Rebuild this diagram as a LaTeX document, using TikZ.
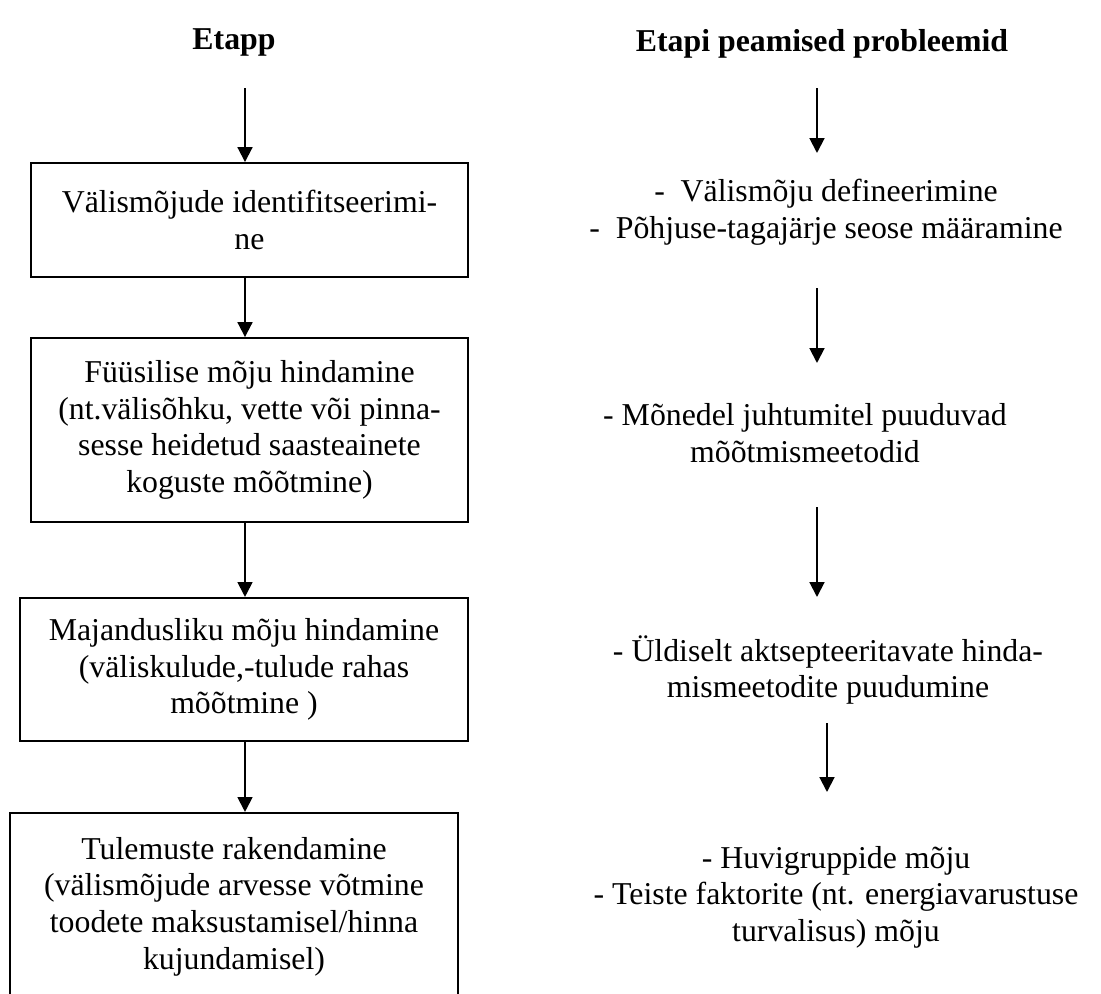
\documentclass[tikz,border=0pt]{standalone}
\usepackage{fontspec}
\setmainfont{Liberation Serif}
\usetikzlibrary{arrows.meta}

\begin{document}
\begin{tikzpicture}[x=0.37736pt,y=-0.37736pt,
  font=\fontsize{12pt}{13.8pt}\selectfont,
  stage/.style={draw,line width=0.75pt,align=center,inner sep=0pt},
  issue/.style={align=center,inner sep=0pt},
  flow/.style={line width=0.75pt,-{Triangle[length=5.6pt,width=5.6pt]}}]
\useasboundingbox (0,0) rectangle (1101,994);
\clip (0,0) rectangle (1101,994);

\node[font=\fontsize{12pt}{13.8pt}\selectfont\bfseries] (etapp) at (234,42) {Etapp};
\node[font=\fontsize{12pt}{13.8pt}\selectfont\bfseries] (probl) at (822,44) {Etapi peamised probleemid};

\node[stage,minimum width=164.9pt,minimum height=43pt] (s1) at (249.5,220)
  {Välismõjude identifitseerimi-\\ne};
\node[stage,minimum width=164.9pt,minimum height=69.4pt] (s2) at (249.5,430)
  {Füüsilise mõju hindamine\\(nt.välisõhku, vette või pinna-\\sesse heidetud saasteainete\\koguste mõõtmine)};
\node[stage,minimum width=169.1pt,minimum height=54pt] (s3) at (244,669.5)
  {Majandusliku mõju hindamine\\(väliskulude,-tulude rahas\\mõõtmine )};
\node[stage,minimum width=169.1pt,minimum height=70.6pt] (s4) at (234,906.5)
  {Tulemuste rakendamine\\(välismõjude arvesse võtmine\\toodete maksustamisel/hinna\\kujundamisel)};

\coordinate (top) at (245,88);
\draw[flow] (top) -- (top |- s1.north);
\draw[flow] (top |- s1.south) -- (top |- s2.north);
\draw[flow] (top |- s2.south) -- (top |- s3.north);
\draw[flow] (top |- s3.south) -- (top |- s4.north);

\node[issue] (p1) at (826,212)
  {-\ \ Välismõju defineerimine\\-\ \ Põhjuse-tagajärje seose määramine};
\node[issue] (p2) at (805,433)
  {- Mõnedel juhtumitel puuduvad\\mõõtmismeetodid};
\node[issue] (p3) at (828,670)
  {- Üldiselt aktsepteeritavate hinda-\\mismeetodite puudumine};
\node[issue] (p4) at (836,897)
  {- Huvigruppide mõju\\- Teiste faktorite (nt. energiavarustuse\\turvalisus) mõju};

\coordinate (a1) at (817,88);
\coordinate (b1) at (817,153);
\coordinate (a2) at (817,288);
\coordinate (b2) at (817,363);
\coordinate (a3) at (817,507);
\coordinate (b3) at (817,597);
\coordinate (a4) at (827,723);
\coordinate (b4) at (827,792);
\draw[flow] (a1) -- (b1);
\draw[flow] (a2) -- (b2);
\draw[flow] (a3) -- (b3);
\draw[flow] (a4) -- (b4);
\end{tikzpicture}
\end{document}
